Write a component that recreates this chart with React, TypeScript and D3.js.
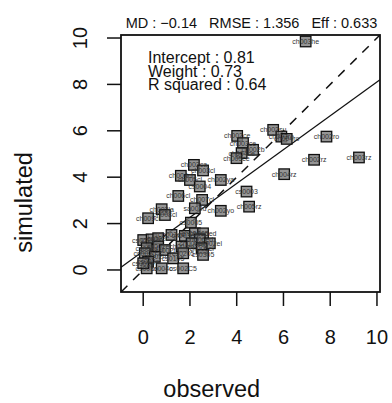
import React from "react";
import * as d3 from "d3";

const labels = [
  "ch003he", "ch002su", "ch003ro", "ch004ro", "ch002ro", "ch002rz", "ch003rz", "ch004rz", "cs0003", "ch005rz",
  "ch002ce", "ch003ce", "ch002b", "ch004ce", "ch005ce",
  "ch002ca", "ch003cl", "ch004cl", "ch005cl", "cs0004", "ch002ya", "ch006cl", "ch007cl", "sa002d", "ch002yo",
  "ch002la", "ch008cl", "ch009cl", "cs0005",
  "cs002a", "cs002b", "cs002c", "ch002ed", "ch003ed", "ch004ed", "ch005ed", "ch006ed", "ch002el", "ch003el",
  "ch004el", "ch005el", "cs002d", "cs002e", "cs002f", "cs002g", "cs002h", "cs0105", "cs0205", "cs0305",
  "cs002o", "cs003o", "cs004o", "cs002C5", "cs005o"
];
const observed = [
  6.95, 5.56, 5.91, 6.14, 7.84, 7.31, 9.23, 6.03, 4.42, 4.53,
  4.02, 4.27, 4.70, 4.21, 3.99,
  2.17, 2.56, 1.61, 2.00, 2.42, 3.32, 1.50, 2.52, 2.21, 3.32,
  0.79, 0.93, 0.21, 2.04,
  0.00, 0.36, 0.64, 1.21, 1.78, 2.21, 2.56, 2.42, 2.85, 2.07,
  1.64, 2.50, 0.15, 0.64, 0.93, 0.07, 0.50, 1.28, 1.71, 2.56,
  0.21, 0.15, 0.79, 1.71, 0.00
];
const simulated = [
  9.85, 6.04, 5.75, 5.65, 5.75, 4.75, 4.85, 4.13, 3.38, 2.73,
  5.78, 5.47, 5.18, 5.04, 4.82,
  4.53, 4.29, 4.06, 3.88, 3.60, 3.88, 3.19, 3.02, 2.66, 2.55,
  2.62, 2.37, 2.23, 2.04,
  1.29, 1.32, 1.37, 1.51, 1.47, 1.58, 1.58, 1.32, 1.15, 1.15,
  1.01, 0.94, 0.94, 1.01, 0.86, 0.72, 0.57, 0.50, 0.72, 0.65,
  0.36, 0.07, 0.07, 0.07, 0.29
];
const ticks = [0, 2, 4, 6, 8, 10];
const statsLine = "MD : \u22120.14   RMSE : 1.356   Eff : 0.633";
const fitLines = ["Intercept : 0.81", "Weight : 0.73", "R squared : 0.64"];
const intercept = 0.81;
const weight = 0.73;
const domain = [-0.95, 10.13];

export default function App() {
  const W = 392, H = 403;
  const box = { l: 121, r: 380, t: 35, b: 292 };
  const x = d3.scaleLinear().domain(domain).range([box.l, box.r]);
  const y = d3.scaleLinear().domain(domain).range([box.b, box.t]);
  const font = "'Liberation Sans', Arial, Helvetica, sans-serif";
  const line = d3.line<[number, number]>().x(d => x(d[0])).y(d => y(d[1]));
  const fit: [number, number][] = domain.map(v => [v, intercept + weight * v]);
  const oneToOne: [number, number][] = domain.map(v => [v, v]);
  const s = 10.5;
  return (
    <svg width={W} height={H} style={{ position: "absolute", left: 0, top: 0, background: "#fff" }} fontFamily={font}>
      <rect x={0} y={0} width={W} height={H} fill="#fff" />
      <text x={(box.l + box.r) / 2 + 1} y={28} fontSize={14.5} textAnchor="middle" fill="#111" style={{ whiteSpace: "pre" }}>{statsLine}</text>
      <defs>
        <clipPath id="plotclip"><rect x={box.l} y={box.t} width={box.r - box.l} height={box.b - box.t} /></clipPath>
      </defs>
      <g clipPath="url(#plotclip)">
        <path d={line(oneToOne) || ""} stroke="#111" strokeWidth={1.5} strokeDasharray="9 8" fill="none" />
        <path d={line(fit) || ""} stroke="#111" strokeWidth={1.3} fill="none" />
      </g>
      {observed.map((o, i) => (
        <rect key={"p" + i} x={x(o) - s / 2} y={y(simulated[i]) - s / 2} width={s} height={s}
          fill="#7a7a7a" fillOpacity={0.8} stroke="#111" strokeWidth={1.3} />
      ))}
      {observed.map((o, i) => (
        <text key={"t" + i} x={x(o)} y={y(simulated[i]) + 2.5} fontSize={7} textAnchor="middle" fill="#333">{labels[i]}</text>
      ))}
      {fitLines.map((t, i) => (
        <text key={t} x={148} y={63.3 + i * 13.4} fontSize={16} fill="#111">{t}</text>
      ))}
      <rect x={box.l} y={box.t} width={box.r - box.l} height={box.b - box.t} fill="none" stroke="#111" strokeWidth={1.8} />
      {ticks.map(t => (
        <g key={"x" + t}>
          <line x1={x(t)} x2={x(t)} y1={box.b} y2={box.b + 14} stroke="#111" strokeWidth={1.5} />
          <text x={x(t)} y={344} fontSize={20} textAnchor="middle" fill="#111">{t}</text>
        </g>
      ))}
      {ticks.map(t => (
        <g key={"y" + t}>
          <line x1={box.l - 14} x2={box.l} y1={y(t)} y2={y(t)} stroke="#111" strokeWidth={1.5} />
          <text transform={`translate(87,${y(t)}) rotate(-90)`} fontSize={20} textAnchor="middle" fill="#111">{t}</text>
        </g>
      ))}
      <text x={211.7} y={397} fontSize={23.5} textAnchor="middle" fill="#111">observed</text>
      <text transform={`translate(31.5,202.5) rotate(-90)`} fontSize={23.5} textAnchor="middle" fill="#111">simulated</text>
    </svg>
  );
}
